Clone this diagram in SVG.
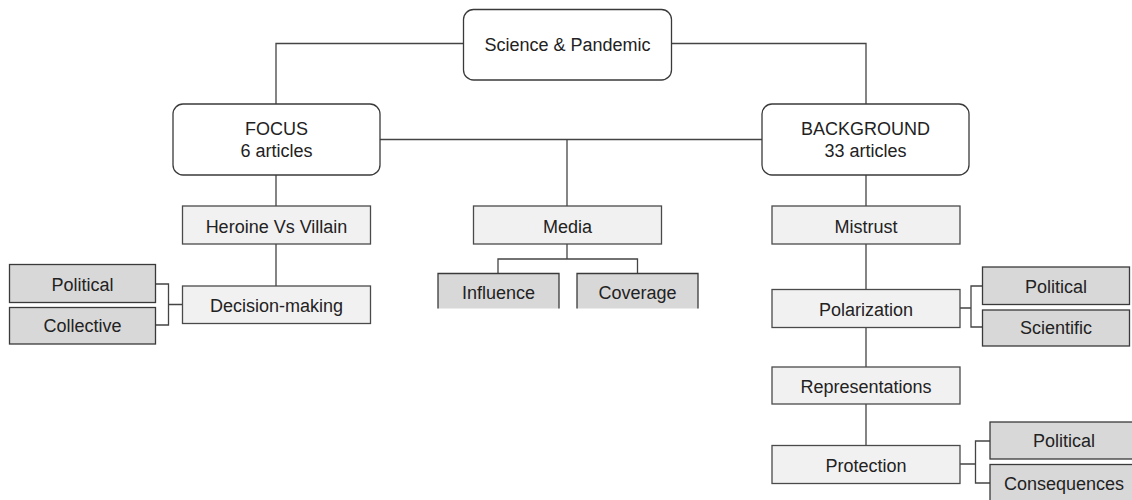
<svg xmlns="http://www.w3.org/2000/svg" width="1132" height="500" viewBox="0 0 1132 500">
<defs>
<style>
text{font-family:"Liberation Sans",Arial,sans-serif;font-size:18px;fill:#222;text-anchor:middle}
.main{fill:#fff;stroke:#3a3a3a;stroke-width:1.3}
.lt{fill:#f2f1f1;stroke:#4a4a4a;stroke-width:1.3}
.dk{fill:#d9d8d8;stroke:#3a3a3a;stroke-width:1.3}
.dkf{fill:#d9d8d8;stroke:none}
.edge{fill:none;stroke:#444;stroke-width:1.3}
</style>
</defs>
<rect width="1132" height="500" fill="#fff"/>
<g id="connectors">
<path class="edge" d="M463,43.5 H276 V104"/>
<path class="edge" d="M672,43.5 H866 V104"/>
<path class="edge" d="M380,139.5 H762"/>
<path class="edge" d="M567,139.5 V206"/>
<path class="edge" d="M276,175 V206 M276,244 V286"/>
<path class="edge" d="M567,244 V259 M498,273 V259 H637.5 V273"/>
<path class="edge" d="M155,284 H168.5 V325 H155 M168.5,304.5 H182"/>
<path class="edge" d="M866,175 V206 M866,244 V289 M866,327 V367 M866,404 V445"/>
<path class="edge" d="M960,308 H971 M982,286 H971 V327 H982"/>
<path class="edge" d="M960,464 H975.5 M990,441 H975.5 V483 H990"/>
</g>
<g id="science">
<rect class="main" x="463.5" y="9.5" width="208" height="70.5" rx="10"/>
<text x="567.5" y="51">Science &amp; Pandemic</text>
</g>
<g id="focus">
<rect class="main" x="173" y="104" width="207" height="71" rx="10"/>
<text x="276.5" y="134.5">FOCUS</text>
<text x="276.5" y="156.5">6 articles</text>
</g>
<g id="background">
<rect class="main" x="762" y="104" width="207" height="71" rx="10"/>
<text x="865.5" y="134.5">BACKGROUND</text>
<text x="865.5" y="156.5">33 articles</text>
</g>
<g id="heroine">
<rect class="lt" x="182.5" y="206" width="188" height="38"/>
<text x="276.5" y="232.5">Heroine Vs Villain</text>
</g>
<g id="decision">
<rect class="lt" x="182.5" y="286" width="188" height="37.5"/>
<text x="276.5" y="312">Decision-making</text>
</g>
<g id="political-left">
<rect class="dk" x="9.5" y="264.5" width="146" height="38"/>
<text x="82.5" y="290.5">Political</text>
</g>
<g id="collective">
<rect class="dk" x="9.5" y="307.5" width="146" height="36.5"/>
<text x="82.5" y="332">Collective</text>
</g>
<g id="media">
<rect class="lt" x="473.5" y="206" width="188" height="38"/>
<text x="567.5" y="232.5">Media</text>
</g>
<g id="influence">
<rect class="dkf" x="438" y="273.5" width="121" height="35"/>
<path class="edge" d="M438,308.5 V273.5 H559 V308.5" style="stroke:#3a3a3a"/>
<text x="498.5" y="299">Influence</text>
</g>
<g id="coverage">
<rect class="dkf" x="577" y="273.5" width="121" height="35"/>
<path class="edge" d="M577,308.5 V273.5 H698 V308.5" style="stroke:#3a3a3a"/>
<text x="637.5" y="299">Coverage</text>
</g>
<g id="mistrust">
<rect class="lt" x="772" y="206" width="188" height="38"/>
<text x="866" y="232.5">Mistrust</text>
</g>
<g id="polarization">
<rect class="lt" x="772" y="289.5" width="188" height="38"/>
<text x="866" y="315.5">Polarization</text>
</g>
<g id="political-right1">
<rect class="dk" x="982.5" y="267" width="147" height="37.5"/>
<text x="1056" y="292.5">Political</text>
</g>
<g id="scientific">
<rect class="dk" x="982.5" y="310" width="147" height="36"/>
<text x="1056" y="334">Scientific</text>
</g>
<g id="representations">
<rect class="lt" x="772" y="367" width="188" height="37"/>
<text x="866" y="392.5">Representations</text>
</g>
<g id="protection">
<rect class="lt" x="772" y="445.5" width="188" height="38"/>
<text x="866" y="471.5">Protection</text>
</g>
<g id="political-right2">
<rect class="dk" x="990" y="422" width="148" height="37"/>
<text x="1064" y="447">Political</text>
</g>
<g id="consequences">
<rect class="dk" x="990" y="464.5" width="148" height="45"/>
<text x="1064" y="489.5">Consequences</text>
</g>
</svg>
